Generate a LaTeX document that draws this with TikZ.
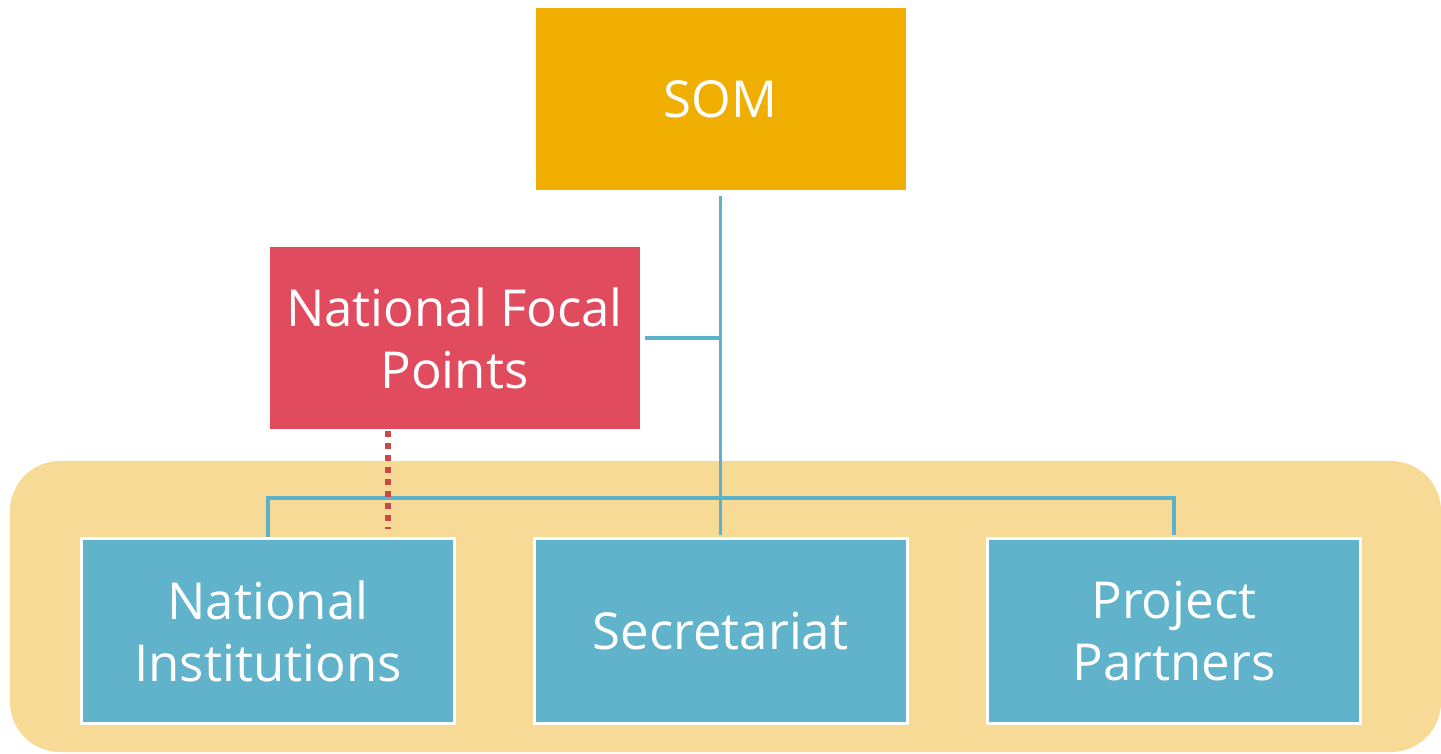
\documentclass[tikz,border=0pt]{standalone}
\usepackage{fontspec}
\setmainfont{Open Sans}
\definecolor{HeadColor}{RGB}{240,174,0}
\definecolor{FocalColor}{RGB}{224,75,94}
\definecolor{UnitColor}{RGB}{97,179,204}
\definecolor{GroupColor}{RGB}{247,218,150}
\definecolor{LinkColor}{RGB}{91,178,204}
\definecolor{DotColor}{RGB}{201,72,72}
\usetikzlibrary{positioning, calc}
\tikzstyle{link} = [LinkColor, line width=0.035cm]
\tikzstyle{dotlink} = [DotColor, line width=0.06cm, dash pattern=on 0.06cm off 0.06cm]
\tikzset{
  orgbox/.style={rectangle, draw=white, line width=0.03cm, text=white, align=center,
    font=\fontsize{14.5}{17.6}\selectfont, minimum width=3.73cm, minimum height=1.85cm, inner sep=0pt},
  head/.style={orgbox, fill=HeadColor},
  focal/.style={orgbox, fill=FocalColor},
  unit/.style={orgbox, fill=UnitColor},
  group/.style={fill=GroupColor, rounded corners=0.5cm}
}
\begin{document}
\begin{tikzpicture}
                \useasboundingbox (0,0) rectangle (14.41,-7.54);

                % Group background
                \fill[group] (0.10,-4.61) rectangle (14.41,-7.52);

                % Top box
                \node[head] (som) at (7.205,-0.995) {SOM};

                % Focal points
                \node[focal] (nfp) at (4.545,-3.38) {National Focal\\Points};

                % Bottom row
                \node[unit] (ni) at (2.68,-6.31) {National\\Institutions};
                \node[unit] (sec) at (7.205,-6.31) {Secretariat};
                \node[unit] (pp) at (11.74,-6.31) {Project\\Partners};

                % Tree lines
                \coordinate (bar) at (7.205,-4.98);
                \draw[link, shorten <=0.03cm] (som.south) -- (bar);
                \draw[link, shorten <=0.02cm] (nfp.east) -- (som.south |- nfp.east);
                \draw[link, shorten >=0.02cm] (ni.north) |- (bar) -| (pp.north);
                \draw[link, shorten >=0.02cm] (bar) -- (sec.north);

                % Dotted link
                \coordinate (dot top) at (3.88,-4.31);
                \draw[dotlink] (dot top) -- ($(dot top |- ni.north)+(0,0.08)$);
            \end{tikzpicture}
\end{document}
